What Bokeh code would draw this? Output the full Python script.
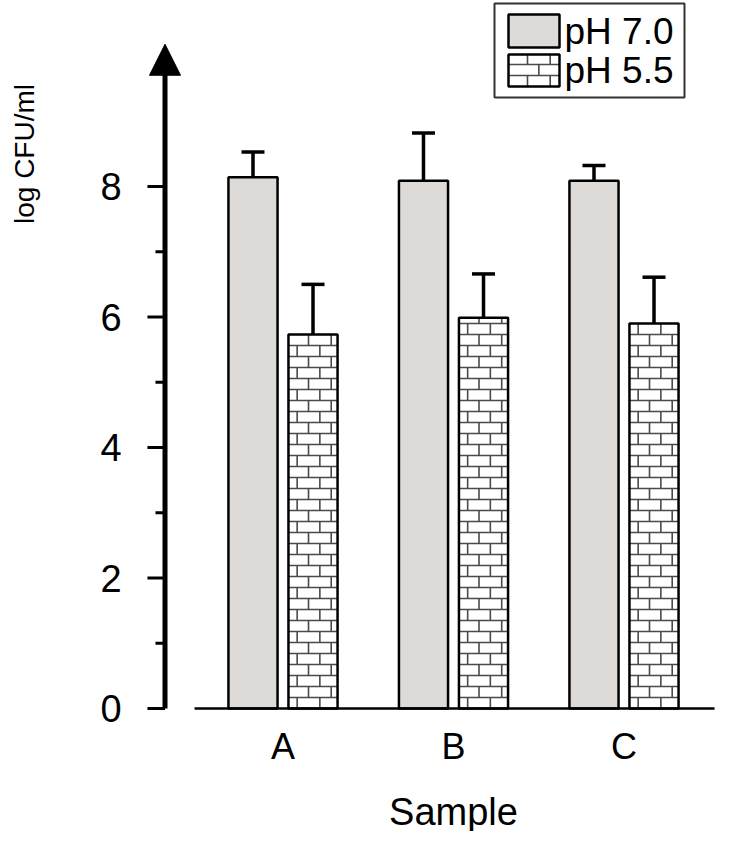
import numpy as np
from bokeh.plotting import figure
from bokeh.core.properties import value
from bokeh.models import (ColumnDataSource, Range1d, Whisker, TeeHead,
                          Arrow, NormalHead)
from bokeh.embed import file_html
from bokeh.resources import INLINE

# ---- data ----
samples = ["A", "B", "C"]
ph70 = [8.14, 8.09, 8.09]
ph70_err = [0.39, 0.73, 0.23]
ph55 = [5.73, 5.99, 5.90]
ph55_err = [0.77, 0.67, 0.71]
series_labels = ["pH 7.0", "pH 5.5"]
y_ticks = [0, 2, 4, 6, 8]
y_minor = [1, 3, 5, 7]
x_label = "Sample"
y_label = "log CFU/ml"

# ---- style / layout constants ----
FONT = "Liberation Sans"
GRAY = "#dedad7"
BRICK = "#4a4a4a"
PX_X = 170.5          # pixels per x unit
PX_Y = 65.25          # pixels per y unit
pos = np.arange(1, len(samples) + 1, dtype=float)
off = 0.176
bw = 0.288
BRICK_H = 11 / PX_Y
BRICK_W = 22.7 / PX_X

X_AXIS = 0.308
X_MAJ = 0.205
X_MIN = 0.252
X_TLAB = 0.054
Y_AXIS_TOP = 9.85
X_AXIS_L, X_AXIS_R = 0.481, 3.531

p = figure(width=734, height=831, output_backend="svg", toolbar_location=None,
           x_range=Range1d(-112 / PX_X, (734 - 112) / PX_X),
           y_range=Range1d(-(831 - 708) / PX_Y, 708 / PX_Y),
           min_border_left=0, min_border_right=0, min_border_top=0,
           min_border_bottom=0)
p.outline_line_color = None
p.grid.visible = False
p.axis.visible = False
p.background_fill_color = "white"
p.border_fill_color = "white"


def brick_segments(left, right, bottom, top, phase):
    x0s, y0s, x1s, y1s = [], [], [], []
    ys = np.arange(bottom, top - 1e-6, BRICK_H)
    for k, yb in enumerate(ys):
        yt = min(yb + BRICK_H, top)
        if k > 0:
            x0s.append(left); x1s.append(right); y0s.append(yb); y1s.append(yb)
        start = left + phase + (k % 2) * BRICK_W / 2
        for xv in np.arange(start, right, BRICK_W):
            if left + 0.01 < xv < right - 0.01:
                x0s.append(xv); x1s.append(xv); y0s.append(yb); y1s.append(yt)
    return x0s, y0s, x1s, y1s


src70 = ColumnDataSource(dict(x=pos - off, top=ph70,
                              upper=np.array(ph70) + np.array(ph70_err)))
src55 = ColumnDataSource(dict(x=pos + off, top=ph55,
                              upper=np.array(ph55) + np.array(ph55_err)))

p.vbar(x="x", top="top", width=bw, source=src70, fill_color=GRAY,
       line_color="black", line_width=2.5)
p.vbar(x="x", top="top", width=bw, source=src55, fill_color="white",
       line_color=None)

bx0, by0, bx1, by1 = [], [], [], []
for xc, t in zip(pos + off, ph55):
    a, b, c, d = brick_segments(xc - bw / 2, xc + bw / 2, 0, t, 8.7 / PX_X)
    bx0 += a; by0 += b; bx1 += c; by1 += d
p.segment(x0=bx0, y0=by0, x1=bx1, y1=by1, line_color=BRICK, line_width=1.6)
p.vbar(x="x", top="top", width=bw, source=src55, fill_color=None,
       line_color="black", line_width=2.5)

for s in (src70, src55):
    p.add_layout(Whisker(source=s, base="x", lower="top", upper="upper",
                         line_color="black", line_width=3.5,
                         upper_head=TeeHead(size=23, line_width=3.5,
                                            line_color="black"),
                         lower_head=None))

# ---- y axis ----
p.segment(x0=[X_AXIS], y0=[0], x1=[X_AXIS], y1=[Y_AXIS_TOP],
          line_color="black", line_width=5)
p.segment(x0=X_MAJ, y0=y_ticks, x1=X_AXIS, y1=y_ticks,
          line_color="black", line_width=3)
p.segment(x0=X_MIN, y0=y_minor, x1=X_AXIS, y1=y_minor,
          line_color="black", line_width=3)
p.text(x=X_TLAB, y=y_ticks, text=[str(t) for t in y_ticks],
       text_align="right", text_baseline="middle",
       text_font=value(FONT), text_font_size="38px", text_color="black")
p.add_layout(Arrow(end=NormalHead(size=31, fill_color="black", line_color="black",
                                  line_width=1),
                   x_start=X_AXIS, y_start=9.7, x_end=X_AXIS, y_end=10.18,
                   line_alpha=0, line_width=0))
p.text(x=[-88.5 / PX_X], y=[(708 - 153.5) / PX_Y], text=[y_label],
       angle=np.pi / 2, text_align="center", text_baseline="middle",
       text_font=value(FONT), text_font_size="28px", text_color="black")

# ---- x axis ----
p.segment(x0=[X_AXIS_L], y0=[0], x1=[X_AXIS_R], y1=[0],
          line_color="black", line_width=2.5)
p.text(x=pos, y=[-37.5 / PX_Y] * len(samples), text=samples,
       text_align="center", text_baseline="middle",
       text_font=value(FONT), text_font_size="36px", text_color="black")
p.text(x=[pos.mean()], y=[-103 / PX_Y], text=[x_label],
       text_align="center", text_baseline="middle",
       text_font=value(FONT), text_font_size="38px", text_color="black")

# ---- legend (drawn in data space) ----
def px_x(v):
    return (v - 112) / PX_X


def px_y(v):
    return (708 - v) / PX_Y


p.quad(left=[px_x(494)], right=[px_x(684)], top=[px_y(3)], bottom=[px_y(97)],
       fill_color="white", line_color="#333333", line_width=2)
sw_l, sw_r = px_x(508), px_x(559)
p.quad(left=[sw_l], right=[sw_r], top=[px_y(14)], bottom=[px_y(47)],
       fill_color=GRAY, line_color="black", line_width=2.5)
p.quad(left=[sw_l], right=[sw_r], top=[px_y(54)], bottom=[px_y(86)],
       fill_color="white", line_color=None)
lx0, ly0, lx1, ly1 = brick_segments(sw_l, sw_r, px_y(86), px_y(54), 19 / PX_X)
p.segment(x0=lx0, y0=ly0, x1=lx1, y1=ly1, line_color=BRICK, line_width=1.6)
p.quad(left=[sw_l], right=[sw_r], top=[px_y(54)], bottom=[px_y(86)],
       fill_color=None, line_color="black", line_width=2.5)
p.text(x=[px_x(564)] * 2, y=[px_y(31), px_y(70)], text=series_labels,
       text_align="left", text_baseline="middle",
       text_font=value(FONT), text_font_size="37px", text_color="black")

open("out.html", "w").write(file_html(p, INLINE))
